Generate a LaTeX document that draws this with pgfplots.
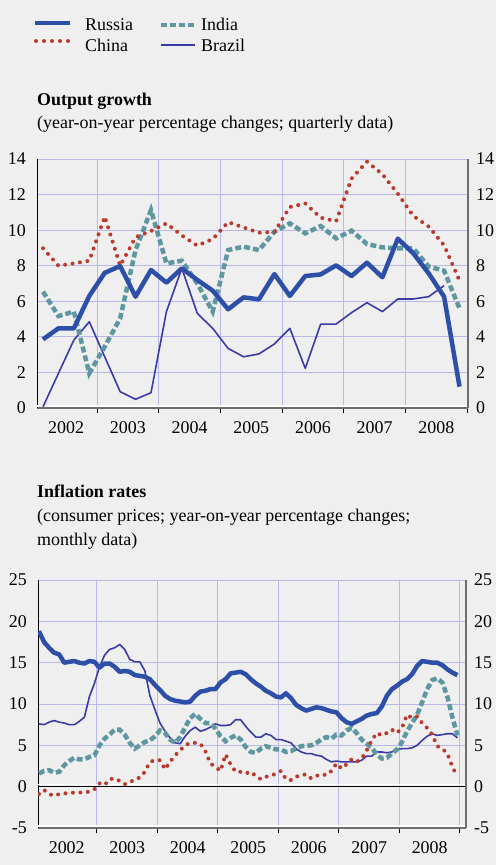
\documentclass[border=0pt]{standalone}
\usepackage{fontspec}
\setmainfont{Liberation Serif}
\usepackage{pgfplots}
\pgfplotsset{compat=1.18}
\usepackage{pgfplotstable}
\definecolor{bgc}{HTML}{EFEFEF}
\definecolor{gridc}{HTML}{B8B8EA}
\definecolor{rus}{HTML}{2D4FA8}
\definecolor{chn}{HTML}{BC3A2C}
\definecolor{ind}{HTML}{5F97A1}
\definecolor{bra}{HTML}{3B3BA8}
\definecolor{axg}{HTML}{6E6E6E}

% quarterly output growth, q=1 is 2002Q1
\pgfplotstableread{
q rus chn ind
1 3.86 8.98 6.54
2 4.48 8.00 5.17
3 4.48 8.13 5.42
4 6.30 8.28 1.95
5 7.60 10.76 3.45
6 7.98 8.00 5.04
7 6.26 9.60 8.88
8 7.76 9.95 11.13
9 7.05 10.38 8.13
10 7.85 9.70 8.28
11 7.20 9.13 7.00
12 6.60 9.50 5.42
13 5.55 10.45 8.88
14 6.22 10.15 9.07
15 6.11 9.86 8.88
16 7.53 9.90 9.91
17 6.30 11.30 10.38
18 7.42 11.50 9.82
19 7.51 10.70 10.23
20 8.02 10.50 9.54
21 7.42 12.90 9.97
22 8.17 13.85 9.22
23 7.35 13.15 9.03
24 9.52 12.05 8.98
25 8.70 10.80 8.98
26 7.57 10.20 7.95
27 6.26 9.15 7.72
28 1.20 7.16 5.60
}\gdpA
\pgfplotstableread{
q bra
1 0.07
2 1.95
3 3.82
4 4.85
5 2.88
6 0.92
7 0.49
8 0.86
9 5.42
10 7.85
11 5.32
12 4.48
13 3.35
14 2.88
15 3.04
16 3.60
17 4.48
18 2.23
19 4.72
20 4.72
21 5.36
22 5.92
23 5.42
24 6.13
25 6.13
26 6.26
27 6.88
}\gdpB
% monthly inflation, m=1 is Jan 2002
\pgfplotstableread{
m rus chn ind bra
1 18.8 -0.9 1.6 7.6
2 17.5 -0.4 1.9 7.5
3 16.8 -0.9 2.0 7.8
4 16.2 -1.1 1.7 8.0
5 16.0 -0.9 1.8 7.8
6 15.0 -0.8 2.6 7.7
7 15.1 -0.8 3.1 7.5
8 15.2 -0.7 3.5 7.5
9 15.0 -0.7 3.3 7.9
10 14.9 -0.7 3.3 8.4
11 15.2 -0.6 3.6 10.9
12 15.1 -0.3 3.8 12.5
13 14.4 0.4 5.0 14.5
14 14.9 0.2 5.8 15.9
15 14.9 0.9 6.3 16.6
16 14.5 1.0 6.9 16.8
17 13.9 0.7 6.9 17.2
18 14.0 0.3 6.3 16.6
19 13.9 0.5 5.3 15.4
20 13.5 0.9 4.6 15.1
21 13.4 1.1 5.0 15.1
22 13.3 1.8 5.4 14.0
23 13.0 3.0 5.6 11.0
24 12.3 3.2 6.1 9.3
25 11.7 3.2 6.8 7.7
26 11.0 2.1 6.5 6.7
27 10.6 3.0 5.7 5.9
28 10.4 3.8 5.3 5.3
29 10.3 4.4 6.0 5.2
30 10.2 5.0 7.2 6.1
31 10.3 5.3 8.3 6.8
32 11.0 5.3 8.8 7.2
33 11.5 5.2 8.2 6.7
34 11.6 4.3 7.7 6.9
35 11.8 2.8 7.7 7.2
36 11.8 2.4 7.0 7.6
37 12.6 1.9 6.1 7.4
38 13.0 3.9 5.5 7.4
39 13.7 2.7 5.9 7.5
40 13.8 1.8 6.2 8.1
41 13.9 1.8 5.7 8.1
42 13.6 1.6 4.8 7.3
43 13.0 1.8 4.2 6.6
44 12.5 1.3 4.1 6.0
45 12.1 0.9 4.6 6.0
46 11.6 1.2 4.9 6.4
47 11.3 1.3 4.7 6.2
48 10.9 1.6 4.5 5.7
49 10.8 1.9 4.5 5.7
50 11.3 0.9 4.2 5.5
51 10.7 0.8 4.3 5.3
52 9.9 1.2 4.6 4.6
53 9.5 1.4 4.9 4.2
54 9.2 1.5 4.95 4.0
55 9.4 1.0 5.0 4.0
56 9.6 1.3 5.3 3.8
57 9.5 1.5 5.7 3.7
58 9.3 1.4 6.0 3.3
59 9.1 1.9 5.8 3.0
60 9.0 2.8 6.3 3.1
61 8.3 2.2 6.2 3.0
62 7.8 2.7 6.8 3.0
63 7.6 3.3 7.1 3.0
64 7.9 3.0 6.5 3.0
65 8.2 3.4 5.7 3.2
66 8.6 4.4 5.2 3.7
67 8.8 5.6 4.7 3.7
68 8.9 6.5 3.9 4.2
69 9.7 6.2 3.4 4.2
70 11.0 6.5 3.5 4.1
71 11.8 6.9 4.0 4.2
72 12.2 6.5 4.5 4.5
73 12.7 7.1 5.4 4.6
74 13.0 8.7 6.7 4.6
75 13.6 8.3 7.7 4.7
76 14.6 8.5 8.7 5.0
77 15.2 7.7 10.2 5.6
78 15.1 7.1 11.8 6.1
79 15.0 6.3 12.9 6.4
80 15.0 4.9 13.1 6.2
81 14.7 4.6 12.6 6.3
82 14.2 4.0 10.9 6.4
83 13.8 2.4 8.4 6.4
84 13.5 1.2 6.2 5.9
}\cpi

\tikzset{
  rusS/.style={rus, line width=4.5bp, line join=round},
  chnS/.style={chn, line width=4bp, line cap=round, dash pattern=on 0bp off 7.5bp},
  indS/.style={ind, line width=4.5bp, dash pattern=on 6bp off 3bp},
  braS/.style={bra, line width=1.6bp, line join=round},
}
\pgfplotsset{
  panel/.style={
    scale only axis, anchor=south west,
    axis x line*=bottom, axis y line*=left,
    x axis line style={-, draw=axg, line width=2bp},
    y axis line style={-, draw=black, line width=1bp},
    ymajorgrids, xmajorgrids, grid style={gridc, line width=1bp},
    ytick style={draw=none},
    xtick style={black, line width=1bp},
    tick align=outside, major tick length=5bp,
    xticklabels={},
    extra x tick style={grid=none, major tick length=0bp, xticklabel style={yshift=-7bp}},
    /pgf/number format/assume math mode=true,
    tick label style={font=\fontsize{18}{22}\selectfont},
  },
  rpanel/.style={
    scale only axis, anchor=south west,
    axis x line=none, axis y line*=right,
    y axis line style={-, draw=axg, line width=1.5bp},
    ytick style={draw=none},
    yticklabel style={xshift=2bp},
    /pgf/number format/assume math mode=true,
    tick label style={font=\fontsize{18}{22}\selectfont},
  },
}

\begin{document}
\fontsize{18}{22}\selectfont
\begin{tikzpicture}
\fill[bgc] (0bp,0bp) rectangle (496bp,-865bp);
\useasboundingbox (0bp,0bp) rectangle (496bp,-865bp);

% legend
\draw[rusS] (35bp,-23bp) -- (70bp,-23bp);
\draw[chn, line width=4bp, line cap=round, dash pattern=on 0bp off 8bp] (36bp,-41bp) -- (69bp,-41bp);
\draw[indS] (161bp,-25bp) -- (196bp,-25bp);
\draw[bra, line width=2.2bp] (161bp,-45bp) -- (195bp,-45bp);
\node[anchor=base west, inner sep=0] at (85bp,-30bp) {Russia};
\node[anchor=base west, inner sep=0] at (85bp,-51bp) {China};
\node[anchor=base west, inner sep=0] at (201bp,-30bp) {India};
\node[anchor=base west, inner sep=0] at (201bp,-51bp) {Brazil};

% titles
\node[anchor=base west, inner sep=0, font=\bfseries] at (37bp,-105bp) {Output growth};
\node[anchor=base west, inner sep=0] at (37bp,-128bp) {(year-on-year percentage changes; quarterly data)};
\node[anchor=base west, inner sep=0, font=\bfseries] at (37bp,-497bp) {Inflation rates};
\node[anchor=base west, inner sep=0] at (37bp,-521bp) {(consumer prices; year-on-year percentage changes;};
\node[anchor=base west, inner sep=0] at (37bp,-545bp) {monthly data)};

% top panel
\begin{axis}[panel, at={(37bp,-408bp)}, width=431bp, height=249bp,
  xmin=0.61, xmax=28.55, ymin=0, ymax=14,
  xtick={0.5,4.5,...,28.5}, ytick={0,2,...,14},
  extra x ticks={2.5,6.5,...,26.5},
  extra x tick labels={2002,2003,2004,2005,2006,2007,2008}]
\draw[white, line width=1.5bp] ([yshift=2.2bp]rel axis cs:0,0) -- ([yshift=2.2bp]rel axis cs:1,0);
\addplot[braS] table[x=q, y=bra] {\gdpB};
\addplot[indS] table[x=q, y=ind] {\gdpA};
\addplot[chnS] table[x=q, y=chn] {\gdpA};
\addplot[rusS] table[x=q, y=rus] {\gdpA};
\end{axis}
\begin{axis}[rpanel, at={(37bp,-408bp)}, width=431bp, height=249bp,
  xmin=0.61, xmax=28.55, ymin=0, ymax=14, ytick={0,2,...,14}]
\end{axis}

% bottom panel
\begin{axis}[panel, at={(38bp,-828bp)}, width=428bp, height=248bp,
  xmin=0.8, xmax=85.7, ymin=-5, ymax=25,
  xtick={0.5,12.5,...,84.5}, ytick={-5,0,...,25},
  extra x ticks={6.5,18.5,...,78.5},
  extra x tick labels={2002,2003,2004,2005,2006,2007,2008}]
\draw[white, line width=1.5bp] ([yshift=2.2bp]rel axis cs:0,0) -- ([yshift=2.2bp]rel axis cs:1,0);
\draw[white, line width=1.5bp] ([yshift=2.2bp]axis cs:0.8,0) -- ([yshift=2.2bp]axis cs:85.7,0);
\draw[black, line width=1.2bp] (axis cs:0.8,0) -- (axis cs:85.7,0);
\addplot[braS] table[x=m, y=bra] {\cpi};
\addplot[indS] table[x=m, y=ind] {\cpi};
\addplot[chnS] table[x=m, y=chn] {\cpi};
\addplot[rusS] table[x=m, y=rus] {\cpi};
\end{axis}
\begin{axis}[rpanel, at={(38bp,-828bp)}, width=428bp, height=248bp,
  xmin=0.8, xmax=85.7, ymin=-5, ymax=25, ytick={-5,0,...,25}]
\end{axis}
\end{tikzpicture}
\end{document}
